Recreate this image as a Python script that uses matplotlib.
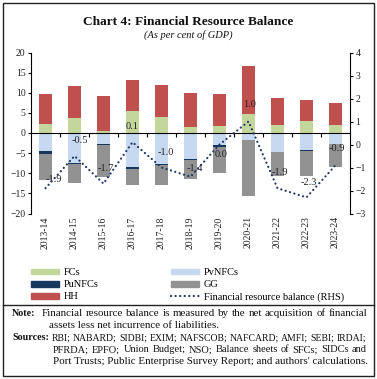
import matplotlib
matplotlib.use("Agg")
import matplotlib.pyplot as plt
import numpy as np
from matplotlib.patches import Patch, Rectangle
from matplotlib.lines import Line2D

plt.rcParams['font.family'] = ['Liberation Serif', 'DejaVu Serif']

categories = ["2013-14", "2014-15", "2015-16", "2016-17", "2017-18", "2018-19",
              "2019-20", "2020-21", "2021-22", "2022-23", "2023-24"]
FCs = [2.25, 3.75, 0.4, 5.5, 4.0, 1.6, 1.8, 4.6, 2.1, 2.9, 2.0]
HH = [7.5, 7.9, 8.75, 7.65, 8.0, 8.3, 8.0, 12.0, 6.7, 5.35, 5.4]
PvNFCs = [-4.4, -7.4, -2.8, -8.4, -7.75, -6.4, -2.9, -1.75, -4.7, -4.25, -2.7]
PuNFCs = [-0.9, -0.2, -0.2, -0.45, -0.25, -0.2, -0.6, 0.0, -0.1, -0.1, -0.1]
GG = [-6.4, -4.7, -7.9, -4.15, -5.0, -4.9, -6.5, -13.95, -5.8, -6.25, -5.55]
FRB = [-1.9, -0.5, -1.7, 0.1, -1.0, -1.4, 0.0, 1.0, -1.9, -2.3, -0.9]
label_offsets = [(6, 6), (4, 11), (2, 11), (0, 11), (3, 11), (3, 6),
                 (1, -7), (1, 12), (2, 11), (2, 11), (1, 12)]

c_fc = '#c3d69b'
c_pv = '#c6d9f1'
c_pu = '#17375e'
c_gg = '#929292'
c_hh = '#c0504d'
c_line = '#1f3864'
txt = '#222222'
dot_style = (0, (0.05, 2.0))

fig = plt.figure(figsize=(3.77, 3.79), dpi=100)

ax = fig.add_axes([31/377, 1-213.5/379, 319/377, 161/379])
x = np.arange(len(categories))
w = 0.42
fc = np.array(FCs); hh = np.array(HH)
pv = np.array(PvNFCs); pu = np.array(PuNFCs); gg = np.array(GG)
ax.bar(x, fc, w, color=c_fc, zorder=2)
ax.bar(x, hh, w, bottom=fc, color=c_hh, zorder=2)
ax.bar(x, pv, w, color=c_pv, zorder=2)
ax.bar(x, pu, w, bottom=pv, color=c_pu, zorder=2)
ax.bar(x, gg, w, bottom=pv + pu, color=c_gg, zorder=2)

ax.set_xlim(-0.5, len(categories) - 0.5)
ax.set_ylim(-20, 20)
ax.set_yticks(range(-20, 21, 5))
ax.axhline(0, color='black', lw=0.8, zorder=3)
ax.vlines(np.arange(0.5, len(categories) - 0.5, 1), -0.9, 0, color='black', lw=0.8, zorder=3)
for s in ['top', 'bottom', 'right']:
    ax.spines[s].set_visible(False)
ax.spines['left'].set_linewidth(0.8)
ax.set_xticks(x)
ax.set_xticklabels(categories, rotation=90, fontsize=7, color=txt)
ax.tick_params(axis='x', length=0, pad=2)
ax.tick_params(axis='y', labelsize=7, length=2.5, width=0.8, pad=1.5, labelcolor=txt)

ax2 = ax.twinx()
ax2.set_ylim(-3, 4)
ax2.set_yticks(range(-3, 5))
for s in ['top', 'bottom', 'left']:
    ax2.spines[s].set_visible(False)
ax2.spines['right'].set_linewidth(0.8)
ax2.tick_params(axis='y', labelsize=7, length=2.5, width=0.8, pad=1.5, labelcolor=txt)
ax2.plot(x, FRB, color=c_line, lw=1.6, linestyle=dot_style, dash_capstyle='round', zorder=4)
for xi, v, off in zip(x, FRB, label_offsets):
    ax2.annotate(f"{v:.1f}", (xi, v), xytext=off, textcoords='offset points',
                 ha='center', va='center', fontsize=7.5, color=txt)

fig.text(0.5, 1-22/379, "Chart 4: Financial Resource Balance", ha='center', va='center',
         fontsize=9.6, fontweight='bold', color='#111111')
fig.text(0.5, 1-35/379, "(As per cent of GDP)", ha='center', va='center',
         fontsize=7.5, style='italic', color='#111111')

handles = [Patch(color=c_fc, label='FCs'), Patch(color=c_pu, label='PuNFCs'),
           Patch(color=c_hh, label='HH'), Patch(color=c_pv, label='PvNFCs'),
           Patch(color=c_gg, label='GG'),
           Line2D([], [], color=c_line, lw=1.6, linestyle=dot_style,
                  dash_capstyle='round', label='Financial resource balance (RHS)')]
fig.legend(handles=handles, ncol=2, loc='upper left', bbox_to_anchor=(26/377, 1-263/379),
           frameon=False, fontsize=7.5, handlelength=2.7, handleheight=0.5,
           columnspacing=7.0, labelspacing=0.3, handletextpad=0.4, borderpad=0)

# Frame
fig.add_artist(Rectangle((2.5/377, 3/379), 371/377, 373/379, transform=fig.transFigure,
                         fill=False, lw=1.0, edgecolor='#222222'))
fig.add_artist(Line2D([2.5/377, 373.5/377], [1-305/379, 1-305/379], transform=fig.transFigure,
                      lw=1.0, color='#222222'))

ns = 7.9
renderer = fig.canvas.get_renderer()

def ty(p):
    return 1 - p/379

def justify(line, x0, x1, y, size=ns):
    words = line.split(' ')
    arts = [fig.text(0, ty(y), wd, fontsize=size, va='center', color='#111111') for wd in words]
    widths = [a.get_window_extent(renderer).width for a in arts]
    gap = (x1 - x0 - sum(widths)) / (len(words) - 1)
    pos = x0
    for a, wd in zip(arts, widths):
        a.set_x(pos / 377)
        pos += wd + gap

def plain(line, x0, y, bold=False, size=ns):
    fig.text(x0/377, ty(y), line, fontsize=size, va='center', color='#111111',
             fontweight='bold' if bold else 'normal')

plain("Note:", 12, 314, bold=True, size=7.2)
justify("Financial resource balance is measured by the net acquisition of financial", 42, 367, 314)
plain("assets less net incurrence of liabilities.", 49, 326)
plain("Sources:", 12, 338, bold=True, size=7.2)
justify("RBI; NABARD; SIDBI; EXIM; NAFSCOB; NAFCARD; AMFI; SEBI; IRDAI;", 52, 366, 338, size=7.0)
justify("PFRDA; EPFO; Union Budget; NSO; Balance sheets of SFCs; SIDCs and", 53, 367, 350, size=7.5)
plain("Port Trusts; Public Enterprise Survey Report; and authors' calculations.", 53, 362)

fig.savefig("out.png", dpi=100)
